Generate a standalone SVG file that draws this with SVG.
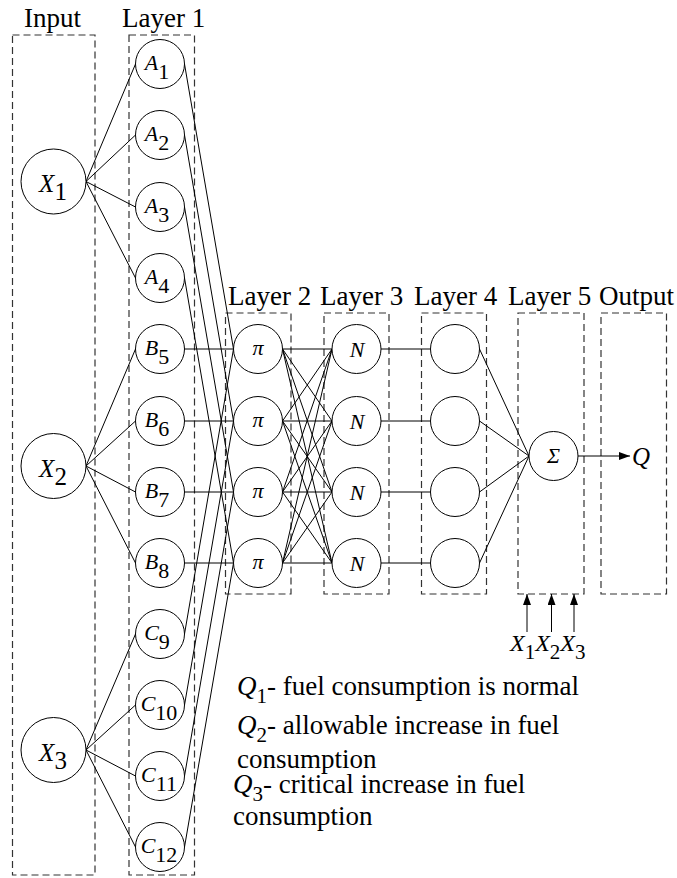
<svg xmlns="http://www.w3.org/2000/svg" width="677" height="878" viewBox="0 0 677 878">
<defs>
<style>
.box{fill:none;stroke:#333;stroke-width:1.2;stroke-dasharray:7,4}
.nd{fill:#fff;stroke:#000;stroke-width:1}
.ln{stroke:#000;stroke-width:1;fill:none}
.t{font-family:'Liberation Serif','Times New Roman',serif;fill:#000}
.hd{font-size:27px}
.lb{font-size:22px;text-anchor:middle}
.xl{font-size:25px;text-anchor:middle}
.it{font-style:italic}
.lg{font-size:27px}
.sb{font-size:21px}
</style>
<marker id="ah" markerWidth="11" markerHeight="8" refX="11" refY="4" orient="auto" markerUnits="userSpaceOnUse">
<path d="M0,0 L11,4 L0,8 z" fill="#000"/>
</marker>
</defs>
<rect width="677" height="878" fill="#fff"/>

<g id="boxes">
<rect class="box" x="12.5" y="35" width="82.5" height="840"/>
<rect class="box" x="129" y="35" width="65.5" height="840"/>
<rect class="box" x="225.5" y="313" width="65.5" height="281"/>
<rect class="box" x="324" y="313" width="65" height="281"/>
<rect class="box" x="421.5" y="313" width="65" height="281"/>
<rect class="box" x="518" y="313" width="66" height="281"/>
<rect class="box" x="601" y="313" width="65.5" height="281"/>
</g>

<g id="headers">
<text class="t hd" x="24" y="27">Input</text>
<text class="t hd" x="122" y="27">Layer 1</text>
<text class="t hd" x="228" y="305">Layer 2</text>
<text class="t hd" x="320" y="305">Layer 3</text>
<text class="t hd" x="414" y="305">Layer 4</text>
<text class="t hd" x="508" y="305">Layer 5</text>
<text class="t hd" x="599" y="305">Output</text>
</g>

<g id="connectors">
<line class="ln" x1="86" y1="181.5" x2="135.5" y2="64"/>
<line class="ln" x1="86" y1="181.5" x2="135.5" y2="135"/>
<line class="ln" x1="86" y1="181.5" x2="135.5" y2="207"/>
<line class="ln" x1="86" y1="181.5" x2="135.5" y2="278"/>
<line class="ln" x1="86" y1="466" x2="135.5" y2="349"/>
<line class="ln" x1="86" y1="466" x2="135.5" y2="421"/>
<line class="ln" x1="86" y1="466" x2="135.5" y2="492"/>
<line class="ln" x1="86" y1="466" x2="135.5" y2="563"/>
<line class="ln" x1="86" y1="750" x2="135.5" y2="634"/>
<line class="ln" x1="86" y1="750" x2="135.5" y2="705"/>
<line class="ln" x1="86" y1="750" x2="135.5" y2="776"/>
<line class="ln" x1="86" y1="750" x2="135.5" y2="847"/>
<line class="ln" x1="184.5" y1="64" x2="233.5" y2="349"/>
<line class="ln" x1="184.5" y1="135" x2="233.5" y2="421"/>
<line class="ln" x1="184.5" y1="207" x2="233.5" y2="492"/>
<line class="ln" x1="184.5" y1="278" x2="233.5" y2="563"/>
<line class="ln" x1="184.5" y1="349" x2="233.5" y2="349"/>
<line class="ln" x1="184.5" y1="421" x2="233.5" y2="421"/>
<line class="ln" x1="184.5" y1="492" x2="233.5" y2="492"/>
<line class="ln" x1="184.5" y1="563" x2="233.5" y2="563"/>
<line class="ln" x1="184.5" y1="634" x2="233.5" y2="349"/>
<line class="ln" x1="184.5" y1="705" x2="233.5" y2="421"/>
<line class="ln" x1="184.5" y1="776" x2="233.5" y2="492"/>
<line class="ln" x1="184.5" y1="847" x2="233.5" y2="563"/>
<line class="ln" x1="282.5" y1="349" x2="332" y2="349"/>
<line class="ln" x1="282.5" y1="349" x2="332" y2="421"/>
<line class="ln" x1="282.5" y1="349" x2="332" y2="492"/>
<line class="ln" x1="282.5" y1="349" x2="332" y2="563"/>
<line class="ln" x1="282.5" y1="421" x2="332" y2="349"/>
<line class="ln" x1="282.5" y1="421" x2="332" y2="421"/>
<line class="ln" x1="282.5" y1="421" x2="332" y2="492"/>
<line class="ln" x1="282.5" y1="421" x2="332" y2="563"/>
<line class="ln" x1="282.5" y1="492" x2="332" y2="349"/>
<line class="ln" x1="282.5" y1="492" x2="332" y2="421"/>
<line class="ln" x1="282.5" y1="492" x2="332" y2="492"/>
<line class="ln" x1="282.5" y1="492" x2="332" y2="563"/>
<line class="ln" x1="282.5" y1="563" x2="332" y2="349"/>
<line class="ln" x1="282.5" y1="563" x2="332" y2="421"/>
<line class="ln" x1="282.5" y1="563" x2="332" y2="492"/>
<line class="ln" x1="282.5" y1="563" x2="332" y2="563"/>
<line class="ln" x1="381" y1="349" x2="430.5" y2="349"/>
<line class="ln" x1="381" y1="421" x2="430.5" y2="421"/>
<line class="ln" x1="381" y1="492" x2="430.5" y2="492"/>
<line class="ln" x1="381" y1="563" x2="430.5" y2="563"/>
<line class="ln" x1="479.5" y1="349" x2="529" y2="456"/>
<line class="ln" x1="479.5" y1="421" x2="529" y2="456"/>
<line class="ln" x1="479.5" y1="492" x2="529" y2="456"/>
<line class="ln" x1="479.5" y1="563" x2="529" y2="456"/>
<line class="ln" x1="578" y1="456" x2="630" y2="456" marker-end="url(#ah)"/>
<line class="ln" x1="527" y1="632" x2="527" y2="594" marker-end="url(#ah)"/>
<line class="ln" x1="551.5" y1="632" x2="551.5" y2="594" marker-end="url(#ah)"/>
<line class="ln" x1="574" y1="632" x2="574" y2="594" marker-end="url(#ah)"/>
</g>

<g id="X1"><circle class="nd" cx="53.5" cy="181.5" r="32.5"/><text class="t xl" x="53" y="192"><tspan class="it">X</tspan><tspan dy="8">1</tspan></text></g>
<g id="X2"><circle class="nd" cx="53.5" cy="466" r="32.5"/><text class="t xl" x="53" y="476.5"><tspan class="it">X</tspan><tspan dy="8">2</tspan></text></g>
<g id="X3"><circle class="nd" cx="53.5" cy="750" r="32.5"/><text class="t xl" x="53" y="760.5"><tspan class="it">X</tspan><tspan dy="8">3</tspan></text></g>

<g id="A1"><circle class="nd" cx="160" cy="64" r="24.5"/><text class="t lb" x="157" y="70"><tspan class="it">A</tspan><tspan dy="9">1</tspan></text></g>
<g id="A2"><circle class="nd" cx="160" cy="135" r="24.5"/><text class="t lb" x="157" y="141"><tspan class="it">A</tspan><tspan dy="9">2</tspan></text></g>
<g id="A3"><circle class="nd" cx="160" cy="207" r="24.5"/><text class="t lb" x="157" y="213"><tspan class="it">A</tspan><tspan dy="9">3</tspan></text></g>
<g id="A4"><circle class="nd" cx="160" cy="278" r="24.5"/><text class="t lb" x="157" y="284"><tspan class="it">A</tspan><tspan dy="9">4</tspan></text></g>
<g id="B5"><circle class="nd" cx="160" cy="349" r="24.5"/><text class="t lb" x="157" y="355"><tspan class="it">B</tspan><tspan dy="9">5</tspan></text></g>
<g id="B6"><circle class="nd" cx="160" cy="421" r="24.5"/><text class="t lb" x="157" y="427"><tspan class="it">B</tspan><tspan dy="9">6</tspan></text></g>
<g id="B7"><circle class="nd" cx="160" cy="492" r="24.5"/><text class="t lb" x="157" y="498"><tspan class="it">B</tspan><tspan dy="9">7</tspan></text></g>
<g id="B8"><circle class="nd" cx="160" cy="563" r="24.5"/><text class="t lb" x="157" y="569"><tspan class="it">B</tspan><tspan dy="9">8</tspan></text></g>
<g id="C9"><circle class="nd" cx="160" cy="634" r="24.5"/><text class="t lb" x="157" y="640"><tspan class="it">C</tspan><tspan dy="9">9</tspan></text></g>
<g id="C10"><circle class="nd" cx="160" cy="705" r="24.5"/><text class="t lb" x="159" y="711"><tspan class="it">C</tspan><tspan dy="9">10</tspan></text></g>
<g id="C11"><circle class="nd" cx="160" cy="776" r="24.5"/><text class="t lb" x="159" y="782"><tspan class="it">C</tspan><tspan dy="9">11</tspan></text></g>
<g id="C12"><circle class="nd" cx="160" cy="847" r="24.5"/><text class="t lb" x="159" y="853"><tspan class="it">C</tspan><tspan dy="9">12</tspan></text></g>

<g id="P1"><circle class="nd" cx="258" cy="349" r="24.5"/><text class="t lb it" x="258" y="355">π</text></g>
<g id="P2"><circle class="nd" cx="258" cy="421" r="24.5"/><text class="t lb it" x="258" y="427">π</text></g>
<g id="P3"><circle class="nd" cx="258" cy="492" r="24.5"/><text class="t lb it" x="258" y="498">π</text></g>
<g id="P4"><circle class="nd" cx="258" cy="563" r="24.5"/><text class="t lb it" x="258" y="569">π</text></g>

<g id="N1"><circle class="nd" cx="356.5" cy="349" r="24.5"/><text class="t lb it" x="357" y="357">N</text></g>
<g id="N2"><circle class="nd" cx="356.5" cy="421" r="24.5"/><text class="t lb it" x="357" y="429">N</text></g>
<g id="N3"><circle class="nd" cx="356.5" cy="492" r="24.5"/><text class="t lb it" x="357" y="500">N</text></g>
<g id="N4"><circle class="nd" cx="356.5" cy="563" r="24.5"/><text class="t lb it" x="357" y="571">N</text></g>

<g id="L4a"><circle class="nd" cx="455" cy="349" r="24.5"/></g>
<g id="L4b"><circle class="nd" cx="455" cy="421" r="24.5"/></g>
<g id="L4c"><circle class="nd" cx="455" cy="492" r="24.5"/></g>
<g id="L4d"><circle class="nd" cx="455" cy="563" r="24.5"/></g>

<g id="Sigma"><circle class="nd" cx="553.5" cy="456" r="24.5"/><text class="t lb it" x="553.5" y="463">Σ</text></g>

<g id="Q"><text class="t it" x="632" y="465" style="font-size:25px">Q</text></g>

<g id="Xin"><text class="t" x="510" y="651" style="font-size:24px"><tspan class="it">X</tspan><tspan dy="8" class="sb">1</tspan><tspan class="it" dy="-8">X</tspan><tspan dy="8" class="sb">2</tspan><tspan class="it" dy="-8">X</tspan><tspan dy="8" class="sb">3</tspan></text></g>

<g id="legend">
<text class="t lg" x="237" y="695"><tspan class="it">Q</tspan><tspan dy="8" class="sb">1</tspan><tspan dy="-8">- fuel consumption is normal</tspan></text>
<text class="t lg" x="237" y="734"><tspan class="it">Q</tspan><tspan dy="8" class="sb">2</tspan><tspan dy="-8">- allowable increase in fuel</tspan></text>
<text class="t lg" x="237" y="768">consumption</text>
<text class="t lg" x="233" y="793"><tspan class="it">Q</tspan><tspan dy="8" class="sb">3</tspan><tspan dy="-8">- critical increase in fuel</tspan></text>
<text class="t lg" x="233" y="825">consumption</text>
</g>
</svg>
